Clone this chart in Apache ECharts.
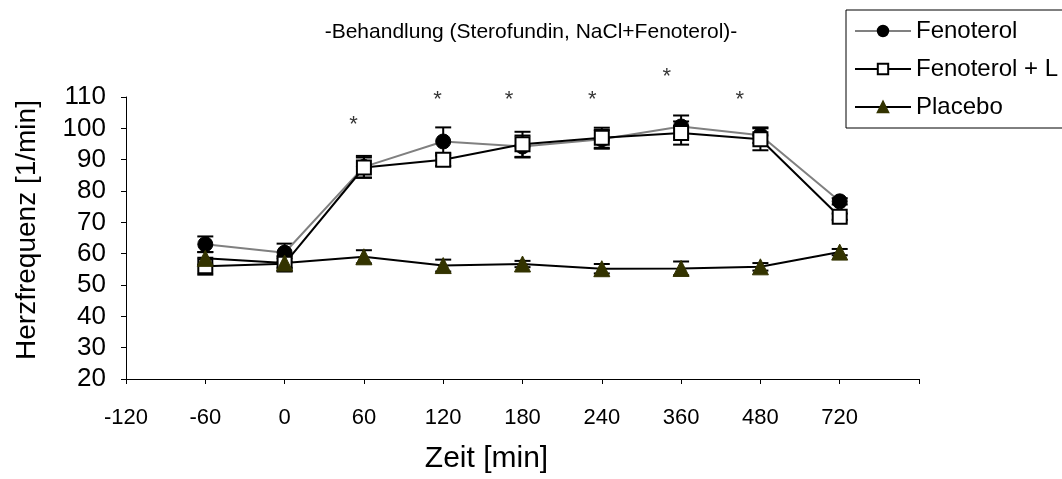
<!DOCTYPE html>
<html><head><meta charset="utf-8">
<script src="https://cdn.jsdelivr.net/npm/echarts@6/dist/echarts.min.js"></script>
<style>html,body{margin:0;padding:0;background:#fff}#c{width:1062px;height:479px}</style>
</head><body><div id="c"></div>
<script>
const categories = ['-120','-60','0','60','120','180','240','360','480','720',''];
const times = ['-60','0','60','120','180','240','360','480','720'];
const fenoterol = [63, 60.3, 87.7, 95.8, 94.2, 96.5, 100.6, 97.8, 76.7];
const fenoterolErr = [2.5, 2.9, 3.5, 4.5, 3.5, 3, 3.5, 2.5, 1];
const fenoterolL = [56, 56.8, 87.5, 90, 94.9, 97, 98.5, 96.5, 71.8];
const fenoterolLErr = [2.7, 2.5, 3.2, 2, 4, 3.2, 3.7, 3.5, 1];
const placebo = [58.5, 57, 59, 56.2, 56.7, 55.2, 55.3, 55.8, 60.5];
const placeboErr = [2, 1.5, 2.1, 1.9, 1, 1.5, 2.2, 1.2, 1];
const yMin = 20, yMax = 110, yInterval = 10;
const starX = [2.87, 3.93, 4.83, 5.88, 6.82, 7.74];
const starY = [101, 109, 109, 109, 116.5, 109];
const seriesNames = ['Fenoterol', 'Fenoterol + L', 'Placebo'];
const titleText = '-Behandlung (Sterofundin, NaCl+Fenoterol)-';

const FONT = 'Liberation Sans, Arial, sans-serif';
function pairs(vals){ return vals.map((v,i)=>[times[i], v]); }
function errData(vals, errs){ return vals.map((v,i)=>[times[i], v-errs[i], v+errs[i]]); }
function errSeries(vals, errs){
  return {
    type:'custom', xAxisIndex:0, yAxisIndex:0, z:1, silent:true,
    data: errData(vals, errs),
    renderItem: function(params, api){
      const x = api.value(0);
      const lo = api.coord([x, api.value(1)]);
      const hi = api.coord([x, api.value(2)]);
      const w = 8;
      const st = {stroke:'#000', lineWidth:2};
      return {type:'group', children:[
        {type:'line', shape:{x1:lo[0],y1:lo[1],x2:hi[0],y2:hi[1]}, style:st},
        {type:'line', shape:{x1:lo[0]-w,y1:lo[1],x2:lo[0]+w,y2:lo[1]}, style:st},
        {type:'line', shape:{x1:hi[0]-w,y1:hi[1],x2:hi[0]+w,y2:hi[1]}, style:st}
      ]};
    }
  };
}
const chart = echarts.init(document.getElementById('c'));
chart.setOption({
  animation:false,
  backgroundColor:'#fff',
  textStyle:{fontFamily:FONT},
  title:{text:titleText, left:'center', top:17, textStyle:{fontFamily:FONT, fontSize:21, fontWeight:'normal', color:'#000'}},
  legend:{
    orient:'vertical', left:846, top:10,
    data:seriesNames,
    itemWidth:56, itemHeight:13, itemGap:14,
    padding:[9,250,9,8],
    borderColor:'#000', borderWidth:1,
    textStyle:{fontFamily:FONT, fontSize:24, color:'#000'}
  },
  grid:{left:126, right:143, top:97, bottom:96, containLabel:false},
  xAxis:[{
    type:'category', data:categories, boundaryGap:false,
    axisLine:{lineStyle:{color:'#000', width:1}},
    axisTick:{show:true, length:5, lineStyle:{color:'#000'}},
    axisLabel:{fontFamily:FONT, fontSize:22, color:'#000', margin:28, interval:0},
    splitLine:{show:false},
    name:'Zeit [min]', nameLocation:'middle', nameGap:65,
    nameTextStyle:{fontFamily:FONT, fontSize:30, color:'#000', padding:[0,72,0,0]}
  },{
    type:'value', min:0, max:categories.length-1, show:false
  }],
  yAxis:{
    type:'value', min:yMin, max:yMax, interval:yInterval,
    axisLine:{show:true, lineStyle:{color:'#000', width:1}},
    axisTick:{show:true, length:5, lineStyle:{color:'#000'}},
    axisLabel:{fontFamily:FONT, fontSize:26, color:'#000', margin:20},
    splitLine:{show:false},
    name:'Herzfrequenz [1/min]', nameLocation:'middle', nameGap:85,
    nameTextStyle:{fontFamily:FONT, fontSize:28, color:'#000', padding:[0,0,0,16]}
  },
  series:[
    errSeries(fenoterol, fenoterolErr),
    errSeries(fenoterolL, fenoterolLErr),
    errSeries(placebo, placeboErr),
    {name:seriesNames[0], type:'line', z:3, data:pairs(fenoterol),
     lineStyle:{color:'#808080', width:2}, symbol:'circle', symbolSize:15,
     itemStyle:{color:'#000', borderColor:'#000', borderWidth:1}},
    {name:seriesNames[1], type:'line', z:3, data:pairs(fenoterolL),
     lineStyle:{color:'#000', width:2}, symbol:'rect', symbolSize:14,
     itemStyle:{color:'#fff', borderColor:'#000', borderWidth:2}},
    {name:seriesNames[2], type:'line', z:3, data:pairs(placebo),
     lineStyle:{color:'#000', width:2}, symbol:'triangle', symbolSize:16,
     itemStyle:{color:'#333300', borderColor:'#333300', borderWidth:1}},
    {type:'scatter', xAxisIndex:1, yAxisIndex:0, z:4, silent:true, symbolSize:0,
     data:starX.map((x,i)=>[x, starY[i]]), clip:false,
     label:{show:true, position:'inside', formatter:'*', fontFamily:FONT, fontSize:22, color:'#000'}}
  ]
});
</script></body></html>
